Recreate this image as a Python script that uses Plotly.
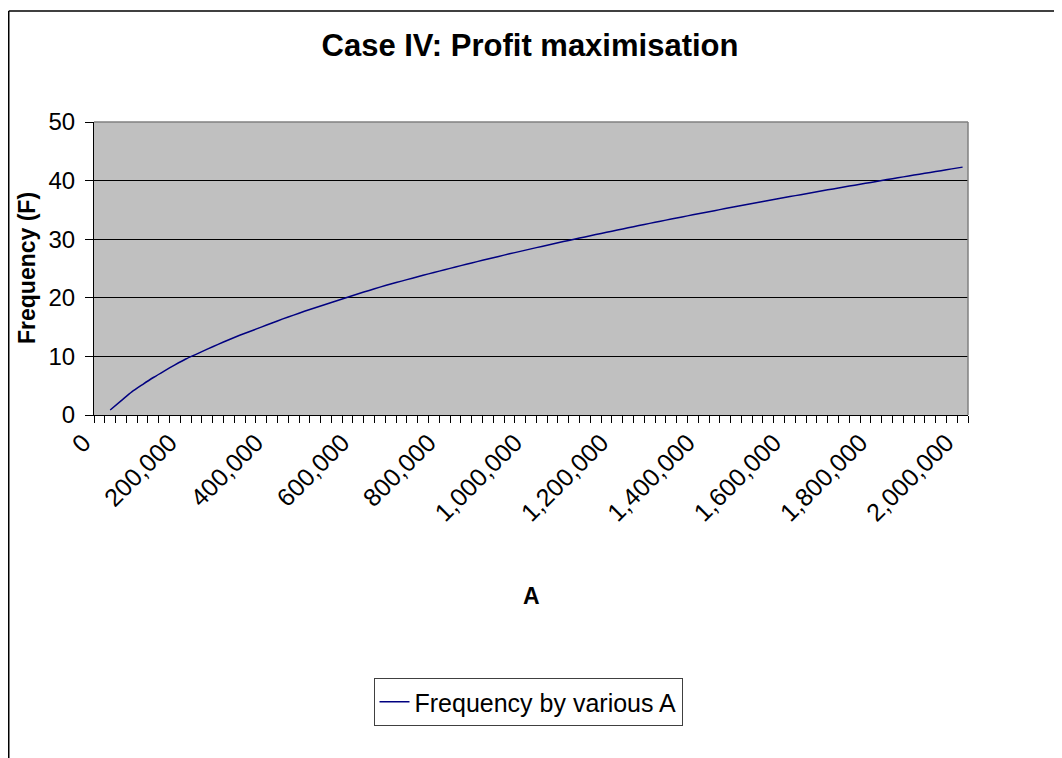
import plotly.graph_objects as go

# Categories (A) and series values (Frequency F)
a_step = 25000
a_categories = list(range(0, 2000001, a_step))
frequency = [None, 0.85, 2.4, 3.95, 5.2, 6.4, 7.5, 8.55, 9.55, 10.4,
             11.25, 12.05, 12.85, 13.6, 14.3, 15.0, 15.7, 16.4, 17.05, 17.7,
             18.3, 18.9, 19.5, 20.1, 20.7, 21.25, 21.82, 22.34, 22.85, 23.35,
             23.84, 24.32, 24.79, 25.26, 25.72, 26.17, 26.62, 27.06, 27.50, 27.92,
             28.35, 28.77, 29.18, 29.59, 29.99, 30.39, 30.79, 31.18, 31.56, 31.95,
             32.32, 32.70, 33.07, 33.44, 33.80, 34.16, 34.52, 34.87, 35.22, 35.57,
             35.92, 36.26, 36.60, 36.94, 37.27, 37.60, 37.93, 38.26, 38.58, 38.90,
             39.22, 39.54, 39.85, 40.17, 40.48, 40.79, 41.09, 41.40, 41.70, 42.00,
             42.30]
x_tick_values = [0, 200000, 400000, 600000, 800000, 1000000, 1200000,
                 1400000, 1600000, 1800000, 2000000]
x_tick_labels = ["0", "200,000", "400,000", "600,000", "800,000", "1,000,000",
                 "1,200,000", "1,400,000", "1,600,000", "1,800,000", "2,000,000"]
y_tick_values = [0, 10, 20, 30, 40, 50]

title_text = "Case IV: Profit maximisation"
x_title = "A"
y_title = "Frequency (F)"
series_name = "Frequency by various A"

FONT = "Liberation Sans, Arial, sans-serif"
OFF = 8                      # page body margin
W, H = 1062 - OFF, 758 - OFF
# plot area, in page pixels
PL, PR, PT, PB = 94, 968, 122, 415
L, R, T, B = PL - OFF, PR - OFF, PT - OFF, PB - OFF


def px_x(page_px):
    return (page_px - OFF - L) / (R - L)


def px_y(page_py):
    return (B - (page_py - OFF)) / (B - T)


fig = go.Figure()
fig.add_trace(go.Scatter(
    x=a_categories, y=frequency, mode="lines", name=series_name,
    line=dict(color="#000080", width=1.5, shape="spline", smoothing=0.6),
    connectgaps=False,
))

fig.update_layout(
    width=W, height=H,
    margin=dict(l=L, r=W - R, t=T, b=H - B, pad=0),
    paper_bgcolor="white",
    plot_bgcolor="#C0C0C0",
    font=dict(family=FONT, color="black", size=20),
    title=dict(text="<b>" + title_text + "</b>", x=px_x(530), xref="paper",
               y=1 - (45 - OFF) / H, yref="container", xanchor="center",
               yanchor="middle",
               font=dict(size=31, family=FONT, color="black")),
    showlegend=True,
    legend=dict(x=px_x(528), y=px_y(678), xanchor="center", yanchor="top",
                xref="paper", yref="paper",
                bordercolor="#404040", borderwidth=1, bgcolor="white",
                font=dict(size=25, family=FONT, color="black"),
                itemwidth=30, tracegroupgap=0),
)

step = a_categories[1] - a_categories[0]
fig.update_xaxes(
    type="linear",
    range=[a_categories[0] - step / 2, a_categories[-1] + step / 2],
    tickmode="array", tickvals=x_tick_values, ticktext=x_tick_labels,
    ticks="", tickangle=-45, ticklabelshift=-16, ticklabelstandoff=2,
    tickfont=dict(size=25, family=FONT, color="black"),
    showgrid=False, zeroline=False,
    showline=True, linecolor="black", linewidth=1,
    minor=dict(ticks="outside", tick0=a_categories[0] - step / 2, dtick=step,
               ticklen=7, tickcolor="black", tickwidth=1, showgrid=False),
)
fig.update_yaxes(
    range=[0, 50], tickmode="array", tickvals=y_tick_values,
    ticks="outside", ticklen=8, tickcolor="black", tickwidth=1,
    ticklabelstandoff=5,
    tickfont=dict(size=24, family=FONT, color="black"),
    showgrid=True, gridcolor="black", gridwidth=1, zeroline=False,
    showline=True, linecolor="black", linewidth=1,
)

# plot-area border (gray) on top & right
fig.add_shape(type="line", xref="paper", yref="paper", x0=0, x1=1, y0=1, y1=1,
              line=dict(color="#808080", width=1.5), layer="above")
fig.add_shape(type="line", xref="paper", yref="paper", x0=1, x1=1, y0=0, y1=1,
              line=dict(color="#808080", width=1.5), layer="above")

# chart-area border (left and top edges visible)
fig.add_shape(type="line", xref="paper", yref="paper",
              x0=px_x(OFF + 0.75), x1=px_x(1070), y0=px_y(11), y1=px_y(11),
              line=dict(color="black", width=1.5))
fig.add_shape(type="line", xref="paper", yref="paper",
              x0=px_x(OFF + 0.75), x1=px_x(OFF + 0.75), y0=px_y(11), y1=px_y(770),
              line=dict(color="black", width=1.5))

# axis titles
fig.add_annotation(text="<b>" + x_title + "</b>", xref="paper", yref="paper",
                   x=px_x(531), y=px_y(596), showarrow=False,
                   xanchor="center", yanchor="middle",
                   font=dict(size=23, family=FONT, color="black"))
fig.add_annotation(text="<b>" + y_title + "</b>", xref="paper", yref="paper",
                   x=px_x(27), y=px_y(268), showarrow=False, textangle=-90,
                   xanchor="center", yanchor="middle",
                   font=dict(size=23, family=FONT, color="black"))

fig.write_html("out.html")
